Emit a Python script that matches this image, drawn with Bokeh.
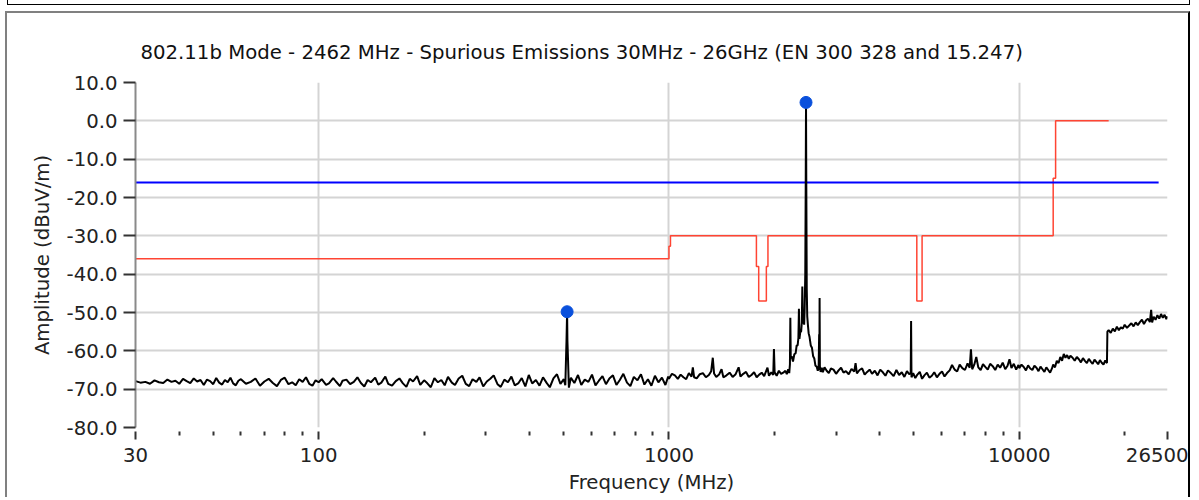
from bokeh.plotting import figure
from bokeh.models import FixedTicker, CustomJSTickFormatter, Range1d, Div
from bokeh.layouts import column
from bokeh.embed import file_html
from bokeh.resources import INLINE

TITLE = "802.11b Mode - 2462 MHz - Spurious Emissions 30MHz - 26GHz (EN 300 328 and 15.247)"
X_LABEL = "Frequency (MHz)"
Y_LABEL = "Amplitude (dBuV/m)"

x_major_ticks = [30, 100, 1000, 10000, 26500]
x_minor_ticks = [40, 50, 60, 70, 80, 90, 200, 300, 400, 500, 600, 700, 800, 900,
                 2000, 3000, 4000, 5000, 6000, 7000, 8000, 9000, 20000]
x_grid_ticks = [100, 1000, 10000]
y_ticks = [-80, -70, -60, -50, -40, -30, -20, -10, 0, 10]

# measured trace (frequency MHz, amplitude dBuV/m)
trace_30_100 = [
    (30, -67.9), (31, -68.3), (32, -68.1), (33, -68.6), (34, -67.7), (35, -68.2), (36, -68.4),
    (37, -67.5), (38, -68.1), (39, -67.8), (40, -68.6), (41, -67.3), (42, -67.9), (43, -68.4),
    (44, -67.2), (45, -68.0), (46, -67.6), (47, -68.9), (48, -67.5), (49, -67.9), (50, -68.7),
    (51, -67.1), (52, -68.3), (53, -68.8), (54, -67.6), (55, -68.2), (56, -67.0), (57, -68.5),
    (58, -69.0), (59, -67.8), (60, -67.4), (62, -68.6), (64, -68.1), (66, -67.2), (68, -69.1),
    (70, -68.0), (72, -67.3), (74, -68.4), (76, -69.2), (78, -67.6), (80, -67.0), (82, -68.7),
    (84, -68.2), (86, -69.0), (88, -67.4), (90, -68.1), (92, -66.9), (94, -68.6), (96, -69.1),
    (98, -67.7),
]
trace_100_1000 = [
    (100, -68.2), (102, -67.4), (105, -68.9), (107, -68.5), (110, -67.1), (112, -68.0), (115, -69.2),
    (117, -67.8), (120, -67.5), (123, -68.7), (126, -68.1), (129, -66.9), (132, -68.4), (135, -69.3),
    (138, -67.6), (141, -68.2), (145, -67.0), (148, -68.8), (151, -68.3), (155, -66.7), (158, -68.6),
    (162, -69.1), (166, -67.9), (170, -67.2), (174, -68.5), (178, -69.4), (182, -67.3), (186, -68.0),
    (191, -66.6), (195, -68.9), (200, -67.7), (204, -68.4), (209, -69.5), (214, -67.1), (219, -68.2),
    (224, -67.6), (229, -69.0), (234, -66.8), (240, -68.3), (245, -68.9), (251, -67.2), (257, -66.5),
    (263, -68.6), (269, -69.2), (275, -67.4), (282, -68.1), (288, -66.9), (295, -69.3), (302, -68.0),
    (309, -67.3), (316, -66.4), (324, -68.7), (331, -69.4), (339, -67.5), (347, -68.2), (355, -66.7),
    (363, -69.0), (372, -68.4), (380, -67.1), (389, -69.3), (398, -66.3), (407, -68.5), (417, -67.6),
    (427, -69.1), (437, -66.9), (447, -68.3), (457, -69.5), (468, -67.2), (479, -66.1), (490, -68.6),
    (501, -67.4), (506, -69.0), (509, -60.0), (510, -57.3), (512, -49.8), (513, -57.3), (515, -62.0),
    (518, -69.6), (525, -67.0), (537, -68.4), (550, -66.3), (562, -68.9), (575, -67.5), (589, -68.1),
    (603, -66.2), (617, -69.0), (631, -67.8), (646, -66.6), (661, -68.7), (676, -67.2), (692, -66.4),
    (708, -68.9), (724, -67.6), (741, -66.0), (759, -68.3), (776, -69.2), (794, -66.8), (813, -67.7),
    (832, -66.1), (851, -68.8), (871, -67.4), (891, -69.1), (912, -66.5), (933, -68.2), (955, -67.0),
    (977, -68.9), (995, -66.7),
]
trace_1000_2150 = [
    (1000, -67.3), (1020, -66.0), (1040, -66.4), (1060, -67.3), (1080, -66.2), (1100, -66.9),
    (1120, -67.4), (1140, -65.8), (1160, -66.7), (1170, -64.3), (1180, -66.9), (1200, -67.2),
    (1225, -66.1), (1250, -65.8), (1275, -66.9), (1300, -66.3), (1320, -65.3), (1334, -61.8),
    (1345, -65.9), (1365, -66.8), (1390, -66.2), (1413, -64.8), (1430, -66.9), (1460, -66.4),
    (1490, -65.7), (1520, -66.8), (1550, -66.1), (1581, -64.3), (1600, -66.7), (1630, -66.0),
    (1660, -65.5), (1690, -66.8), (1720, -66.3), (1750, -65.6), (1780, -66.9), (1810, -66.2),
    (1840, -65.7), (1870, -66.6), (1911, -64.4), (1930, -66.5), (1960, -65.6), (1985, -66.3),
    (1994, -59.5), (2003, -65.6), (2030, -66.5), (2060, -65.2), (2090, -66.0), (2120, -65.7),
    (2150, -65.2),
]
trace_2150_2750 = [
    (2170, -66.1), (2190, -64.8), (2205, -65.8), (2215, -63.5), (2221, -51.4), (2227, -62.0),
    (2240, -61.4), (2260, -62.8), (2280, -60.9), (2300, -60.6), (2315, -58.6), (2330, -58.6),
    (2342, -56.6), (2350, -49.0), (2358, -56.9), (2370, -55.2), (2385, -54.9), (2395, -52.6),
    (2403, -43.2), (2410, -52.9), (2420, -50.6), (2432, -53.2), (2440, -49.0), (2450, -40.0),
    (2457, -17.2), (2462, 4.8), (2467, -17.4), (2474, -44.0), (2482, -51.0), (2493, -53.3),
    (2505, -55.4), (2520, -56.4), (2540, -58.6), (2560, -59.2), (2580, -61.4), (2600, -62.0),
    (2620, -63.9), (2640, -64.1), (2660, -65.2), (2675, -64.4), (2684, -55.7), (2688, -65.0),
    (2692, -46.2), (2697, -64.0), (2710, -65.5), (2730, -64.4), (2750, -65.6),
]
trace_2750_10000 = [
    (2780, -64.3), (2820, -65.2), (2860, -65.8), (2900, -64.6), (2950, -64.9), (3000, -66.0),
    (3050, -65.1), (3100, -64.4), (3150, -65.7), (3200, -65.3), (3260, -66.1), (3320, -64.7),
    (3380, -65.4), (3410, -63.2), (3440, -65.9), (3500, -65.0), (3560, -64.6), (3620, -66.2),
    (3680, -65.5), (3740, -64.9), (3800, -66.0), (3870, -65.2), (3940, -66.4), (4010, -64.9),
    (4080, -65.6), (4150, -66.5), (4220, -65.1), (4300, -65.8), (4380, -66.6), (4460, -65.0),
    (4540, -66.3), (4620, -65.6), (4700, -66.8), (4780, -65.3), (4850, -66.1), (4900, -65.7),
    (4912, -52.2), (4925, -66.9), (4980, -65.8), (5050, -67.1), (5120, -66.2), (5200, -65.5),
    (5280, -67.3), (5360, -66.4), (5450, -65.7), (5540, -67.0), (5630, -66.5), (5720, -65.6),
    (5820, -66.9), (5920, -66.0), (6020, -65.4), (6120, -66.7), (6220, -65.8), (6330, -65.1),
    (6430, -63.7), (6540, -64.9), (6650, -65.4), (6760, -63.6), (6880, -64.5), (7000, -65.0),
    (7120, -63.3), (7220, -64.4), (7280, -59.6), (7340, -64.8), (7440, -63.6), (7540, -61.6),
    (7640, -64.3), (7760, -65.0), (7880, -63.5), (8000, -64.2), (8130, -64.9), (8260, -63.4),
    (8400, -64.0), (8540, -65.0), (8680, -63.6), (8820, -64.4), (8970, -63.1), (9120, -64.8),
    (9260, -63.9), (9380, -62.2), (9500, -64.5), (9650, -63.4), (9800, -64.9), (9950, -63.7),
]
trace_10000_26500 = [
    (10000, -64.5), (10150, -63.6), (10300, -64.2), (10450, -65.1), (10600, -63.8), (10750, -64.6),
    (10900, -65.0), (11050, -63.9), (11200, -64.4), (11350, -65.3), (11500, -64.1), (11650, -64.8),
    (11800, -65.5), (11950, -64.3), (12100, -65.0), (12250, -65.7), (12400, -64.6), (12500, -63.6),
    (12650, -64.3), (12800, -62.6), (12950, -63.2), (13100, -61.6), (13250, -62.6), (13400, -60.8),
    (13550, -61.8), (13700, -61.1), (13850, -62.1), (14000, -61.3), (14200, -61.8), (14400, -62.6),
    (14600, -61.6), (14800, -62.2), (15000, -63.0), (15200, -61.9), (15400, -62.6), (15600, -63.2),
    (15800, -62.1), (16000, -62.8), (16200, -63.4), (16400, -62.3), (16600, -62.9), (16800, -63.5),
    (17000, -62.4), (17200, -63.1), (17400, -63.6), (17600, -62.5), (17800, -63.2), (17850, -55.0),
    (18000, -54.6), (18250, -55.3), (18500, -54.2), (18750, -54.9), (19000, -53.7), (19250, -54.6),
    (19500, -53.9), (19750, -54.2), (20000, -53.2), (20300, -54.0), (20600, -53.4), (20900, -52.8),
    (21200, -53.6), (21500, -52.6), (21800, -53.3), (22100, -52.5), (22400, -51.9), (22700, -53.0),
    (23000, -52.1), (23300, -51.6), (23600, -52.5), (23800, -49.3), (23950, -52.6), (24200, -51.1),
    (24500, -51.9), (24800, -50.7), (25100, -51.6), (25400, -50.4), (25700, -51.4), (26000, -50.6),
    (26300, -51.7), (26500, -51.0),
]

# limit line (red)
limit_freq = [30, 1000, 1000, 1010, 1010, 1777, 1777, 1804, 1804, 1897, 1897, 1917, 1917,
              5100, 5100, 5280, 5280, 12500, 12500, 12700, 12700, 18000]
limit_amp = [-36, -36, -32.7, -32.7, -30, -30, -38, -38, -47, -47, -38, -38, -30,
             -30, -47, -47, -30, -30, -15, -15, 0, 0]

# reference line (blue)
ref_freq = [30, 25000]
ref_amp = [-16.1, -16.1]

# peak markers
peak_freq = [512, 2462]
peak_amp = [-49.8, 4.8]

trace = (trace_30_100 + trace_100_1000 + trace_1000_2150 + trace_2150_2750
         + trace_2750_10000 + trace_10000_26500)
trace_freq = [f for f, a in trace]
trace_amp = [a for f, a in trace]

FONT = "DejaVu Sans"
FS = "19.7px"

p = figure(width=1185, height=486, x_axis_type="log",
           x_range=Range1d(30, 26500), y_range=Range1d(-80, 10),
           output_backend="svg", toolbar_location=None,
           min_border_left=128, min_border_right=25, min_border_top=69, min_border_bottom=72,
           title=TITLE)
p.margin = (6, 0, 0, 5)
p.styles = {"border-top": "2px solid #808080", "border-left": "2px solid #808080",
            "border-right": "2px solid #000000"}
p.outline_line_color = None
p.background_fill_color = "white"
p.border_fill_color = "white"

p.title.text_font = FONT
p.title.text_font_size = FS
p.title.text_font_style = "normal"
p.title.text_color = "#111111"
p.title.align = "left"
p.title.offset = 5
p.title.standoff = 37

# x axis
xa = p.xaxis[0]
xa.ticker = FixedTicker(ticks=x_major_ticks, minor_ticks=x_minor_ticks)
xa.formatter = CustomJSTickFormatter(code="return Math.round(tick).toString();")
xa.axis_label = X_LABEL
xa.axis_line_color = None
xa.major_tick_in = -4
xa.major_tick_out = 12
xa.minor_tick_in = -4
xa.minor_tick_out = 8
xa.major_tick_line_color = "#333333"
xa.minor_tick_line_color = "#333333"
xa.major_tick_line_width = 2
xa.minor_tick_line_width = 2
xa.major_label_standoff = 8
xa.axis_label_standoff = 6
xa.major_label_text_font = FONT
xa.major_label_text_font_size = FS
xa.major_label_text_color = "#222222"
xa.axis_label_text_font = FONT
xa.axis_label_text_font_size = FS
xa.axis_label_text_font_style = "normal"
xa.axis_label_text_color = "#222222"

# y axis
ya = p.yaxis[0]
ya.ticker = FixedTicker(ticks=y_ticks)
ya.formatter = CustomJSTickFormatter(code="return tick.toFixed(1);")
ya.axis_label = Y_LABEL
ya.axis_line_color = "#8a8a8a"
ya.axis_line_width = 2
ya.major_tick_in = 0
ya.major_tick_out = 12
ya.minor_tick_out = 0
ya.minor_tick_in = 0
ya.major_tick_line_color = "#333333"
ya.major_tick_line_width = 2
ya.major_label_standoff = 6
ya.axis_label_standoff = 10
ya.major_label_text_font = FONT
ya.major_label_text_font_size = FS
ya.major_label_text_color = "#222222"
ya.axis_label_text_font = FONT
ya.axis_label_text_font_size = FS
ya.axis_label_text_font_style = "normal"
ya.axis_label_text_color = "#222222"

# grids
p.xgrid.ticker = FixedTicker(ticks=x_grid_ticks)
p.ygrid.ticker = FixedTicker(ticks=y_ticks[1:])
for g in (p.xgrid[0], p.ygrid[0]):
    g.grid_line_color = "#d4d4d4"
    g.grid_line_width = 2

p.line(limit_freq, limit_amp, line_color="#ff4433", line_width=1.5)
p.line(ref_freq, ref_amp, line_color="#0000ff", line_width=2)
p.line(trace_freq, trace_amp, line_color="#000000", line_width=2)
p.scatter(peak_freq, peak_amp, size=12, marker="circle", fill_color="#0a50dc",
          line_color="#0a50dc")

top_box = Div(text="", width=1183, height=5, margin=(0, 0, 0, 7),
              styles={"border-left": "1px solid #000", "border-right": "1px solid #000",
                      "border-bottom": "1px solid #000"})

layout = column(top_box, p, spacing=0)
open("out.html", "w").write(file_html(layout, INLINE))
